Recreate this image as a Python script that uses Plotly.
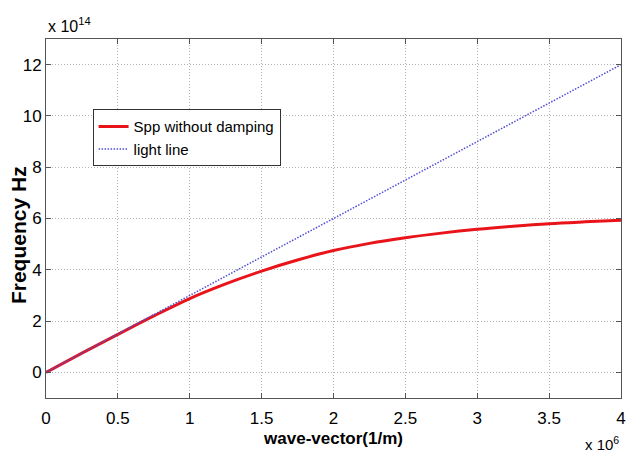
import plotly.graph_objects as go

# wave-vector in units of 1e6 1/m, frequency in units of 1e14 Hz
k_vals = [0, 0.25, 0.5, 0.75, 1.0, 1.25, 1.5, 1.75, 2.0, 2.25, 2.5, 2.75, 3.0, 3.25, 3.5, 3.75, 4.0]
spp_vals = [0, 0.75, 1.48, 2.2, 2.88, 3.45, 3.95, 4.38, 4.75, 5.03, 5.25, 5.43, 5.58, 5.7, 5.8, 5.87, 5.93]
light_k = [0, 4.0]
light_vals = [0, 12.0]
x_ticks = [0, 0.5, 1, 1.5, 2, 2.5, 3, 3.5, 4]
x_tick_text = ["0", "0.5", "1", "1.5", "2", "2.5", "3", "3.5", "4"]
y_ticks = [0, 2, 4, 6, 8, 10, 12]

FONT = "Liberation Sans, Arial, sans-serif"

fig = go.Figure()
fig.add_trace(go.Scatter(x=k_vals, y=spp_vals, mode="lines", name="Spp without damping",
                         line=dict(color="#e8141a", width=3, shape="spline")))
fig.add_trace(go.Scatter(x=light_k, y=light_vals, mode="lines", name="light line",
                         line=dict(color="#4e4ed6", width=1.5, dash="1.5px,1.5px")))

axis_common = dict(showline=True, linecolor="#555555", linewidth=1, mirror="ticks",
                   ticks="inside", ticklen=5, tickcolor="#555555",
                   showgrid=True, gridcolor="#b4b4b4", griddash="1px,2px", gridwidth=1,
                   zeroline=False, ticklabeloverflow="allow",
                   tickfont=dict(family=FONT, size=17, color="black"))

fig.update_xaxes(range=[0, 4], tickvals=x_ticks, ticktext=x_tick_text, ticklabelstandoff=5,
                 title=dict(text="<b>wave-vector(1/m)</b>", font=dict(family=FONT, size=17, color="black"), standoff=4),
                 **axis_common)
fig.update_yaxes(range=[-1, 13], tickvals=y_ticks, **axis_common)

fig.add_annotation(text="<b>Frequency Hz</b>", xref="paper", yref="paper", x=-0.048, y=0.455,
                   xanchor="center", yanchor="middle", showarrow=False, textangle=-90,
                   font=dict(family=FONT, size=21, color="black"))
fig.add_annotation(text="x 10<sup>14</sup>", xref="paper", yref="paper", x=0, y=1.0,
                   xanchor="left", yanchor="bottom", showarrow=False, yshift=2,
                   font=dict(family=FONT, size=16, color="black"))
fig.add_annotation(text="x 10<sup>6</sup>", xref="paper", yref="paper", x=1.0, y=0,
                   xanchor="right", yanchor="top", showarrow=False, yshift=-34,
                   font=dict(family=FONT, size=15, color="black"))

fig.update_layout(width=629, height=459, plot_bgcolor="white", paper_bgcolor="white",
                  margin=dict(l=46, r=3, t=39, b=61),
                  legend=dict(x=0.081, y=0.804, xanchor="left", yanchor="top",
                              bgcolor="white", bordercolor="#333333", borderwidth=1,
                              font=dict(family=FONT, size=15, color="black"),
                              tracegroupgap=0, itemwidth=30))

fig.write_html("out.html")
